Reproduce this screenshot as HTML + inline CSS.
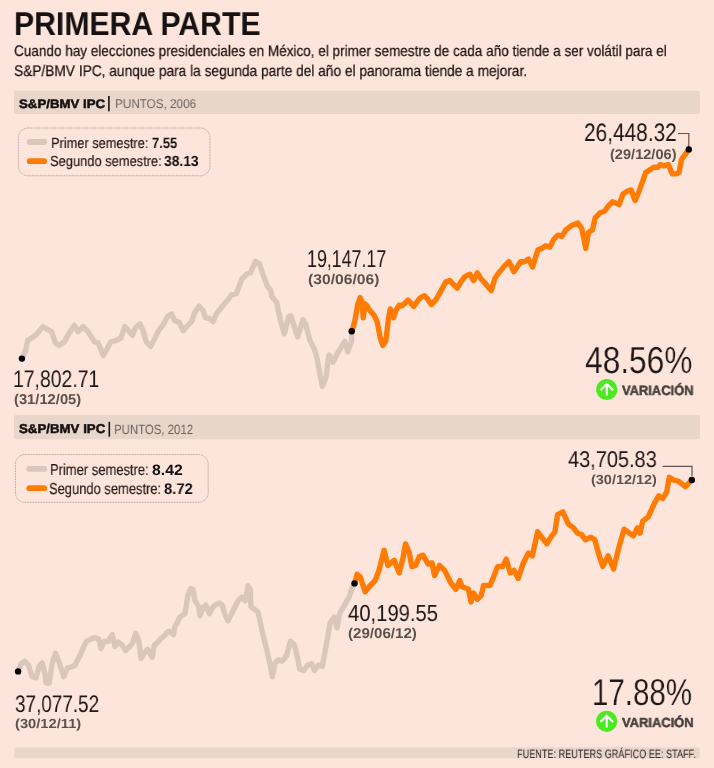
<!DOCTYPE html>
<html><head><meta charset="utf-8"><style>
html,body{margin:0;padding:0}
body{width:714px;height:768px;overflow:hidden;position:relative;background:#fee5db;font-family:"Liberation Sans",sans-serif}
.t{position:absolute;white-space:nowrap;transform-origin:0 0;will-change:transform;text-rendering:geometricPrecision}
</style></head><body>
<svg width="714" height="768" viewBox="0 0 714 768" style="position:absolute;left:0;top:0">
<rect x="14" y="90.7" width="686" height="23.3" rx="2" fill="#e9d6cb"/>
<rect x="14" y="415" width="686" height="24.2" rx="2" fill="#e9d6cb"/>
<rect x="14.3" y="747.3" width="685.5" height="11" rx="2" fill="#e9d6cb"/>
<rect x="108.1" y="96" width="1.6" height="15.3" fill="#141010"/>
<rect x="108.5" y="421.8" width="1.6" height="14.8" fill="#141010"/>
<rect x="18.4" y="128" width="191.5" height="47.8" rx="9.5" fill="none" stroke="#a8968e" stroke-width="0.9" stroke-dasharray="0.9 0.7"/>
<rect x="15.4" y="454.6" width="192.8" height="47.7" rx="9.5" fill="none" stroke="#a8968e" stroke-width="0.9" stroke-dasharray="0.9 0.7"/>
<rect x="26.8" y="139.1" width="20.2" height="5.8" rx="2.4" fill="#dbc6bb"/>
<rect x="26.8" y="158.3" width="20.2" height="5.8" rx="2.9" fill="#ff7b04"/>
<rect x="26.4" y="466" width="20.7" height="5.8" rx="2.4" fill="#dbc6bb"/>
<rect x="26.4" y="485.3" width="20.7" height="5.8" rx="2.9" fill="#ff7b04"/>
<path d="M21.8 358.9 L25.6 350.6 L27.6 340.5 L31.4 338.0 L35.2 335.5 L37.7 333.0 L42.8 326.6 L46.5 329.0 L51.6 331.7 L55.4 343.0 L59.2 345.5 L64.2 341.8 L69.2 333.0 L74.3 325.4 L78.0 331.7 L83.1 326.6 L88.1 331.7 L94.4 341.8 L98.2 343.0 L103.3 355.6 L107.0 349.0 L110.8 341.8 L115.9 340.5 L120.9 338.0 L124.7 326.6 L128.5 330.4 L132.3 335.5 L135.4 327.8 L140.0 323.9 L143.1 330.8 L146.2 341.6 L150.8 346.3 L154.7 338.6 L158.5 330.8 L163.1 324.7 L167.8 316.2 L171.6 313.9 L174.7 320.8 L179.3 322.4 L183.2 330.8 L187.0 326.2 L191.6 321.6 L194.7 312.4 L199.3 306.2 L203.2 310.8 L205.5 317.8 L209.4 318.5 L213.2 321.6 L216.3 313.9 L221.7 307.0 L227.1 300.8 L231.7 294.6 L236.3 293.9 L241.8 279.0 L246.8 274.0 L250.6 272.7 L255.6 261.3 L259.4 263.9 L263.2 275.2 L267.0 285.3 L270.7 290.3 L271.8 296.5 L276.7 302.5 L279.7 317.4 L284.2 333.9 L288.7 316.7 L291.0 315.9 L294.7 327.9 L297.7 336.9 L302.9 319.7 L305.9 324.9 L309.7 339.9 L314.9 350.4 L317.2 359.3 L320.2 375.8 L322.4 386.3 L326.1 377.3 L327.6 363.8 L329.1 354.9 L332.9 362.3 L337.4 353.4 L341.9 345.9 L344.9 341.4 L347.8 351.9 L351.6 341.4 L351.6 331.6" fill="none" stroke="#dbc6bb" stroke-width="5.4" stroke-linejoin="round" stroke-linecap="round"/>
<path d="M351.9 331.6 L355.0 320.3 L357.6 305.2 L360.1 297.6 L362.0 301.4 L363.2 317.8 L365.1 303.9 L367.0 305.8 L369.5 310.2 L374.0 315.3 L377.1 321.6 L380.3 337.9 L382.8 345.5 L385.9 340.5 L388.4 319.0 L390.3 309.0 L393.5 317.8 L396.0 310.2 L399.2 305.2 L401.7 305.8 L404.8 303.3 L408.0 300.1 L410.5 302.6 L413.7 306.4 L416.8 302.0 L420.6 297.6 L424.4 295.7 L427.5 298.9 L431.3 304.5 L435.7 300.1 L440.0 292.6 L445.9 281.8 L449.7 280.5 L453.4 284.3 L457.2 288.1 L461.0 281.8 L464.8 276.7 L469.8 274.2 L473.6 280.5 L477.4 272.9 L481.2 279.2 L484.9 283.0 L491.2 290.6 L495.0 278.0 L498.8 272.9 L503.9 266.6 L508.9 261.6 L513.9 271.7 L520.6 261.7 L524.6 261.7 L528.6 259.1 L532.6 267.0 L537.9 249.7 L541.9 248.4 L545.9 245.8 L549.9 247.1 L553.9 239.1 L557.9 235.1 L561.9 236.4 L565.9 229.8 L571.2 225.8 L577.9 223.1 L581.8 228.5 L585.8 248.4 L588.5 232.4 L592.5 229.8 L595.2 217.8 L600.5 212.5 L604.5 211.2 L608.5 205.8 L612.4 201.8 L619.1 204.5 L623.1 193.9 L627.1 191.2 L631.1 189.9 L635.1 200.5 L639.1 191.2 L645.7 172.6 L649.7 169.9 L653.7 167.3 L657.7 167.3 L660.3 164.6 L664.3 165.9 L668.3 164.6 L672.3 173.9 L676.3 173.9 L679.0 172.6 L681.6 159.3 L685.6 153.9 L688.8 149.4" fill="none" stroke="#ff7b04" stroke-width="5.4" stroke-linejoin="round" stroke-linecap="round"/>
<path d="M18.0 671.6 L20.8 664.1 L24.6 661.0 L28.4 665.3 L32.2 676.7 L36.0 677.9 L39.1 666.6 L42.3 662.8 L44.8 672.9 L46.0 683.0 L49.2 683.0 L52.3 662.8 L55.5 653.4 L59.3 662.8 L63.7 676.7 L67.5 667.9 L71.2 667.2 L75.0 665.3 L80.1 655.3 L83.9 646.4 L86.4 641.4 L91.4 638.9 L95.2 637.6 L99.0 639.5 L101.0 648.6 L104.3 641.3 L108.3 641.3 L112.3 634.6 L115.0 646.6 L118.3 642.0 L121.6 644.6 L125.6 650.6 L129.6 646.6 L132.9 642.6 L135.6 633.3 L138.9 641.3 L140.9 658.6 L144.2 653.3 L147.6 649.3 L152.2 657.3 L154.2 645.3 L157.5 642.6 L160.9 638.6 L164.2 636.0 L167.5 632.0 L169.5 631.3 L173.5 634.6 L174.8 626.7 L176.8 623.3 L180.2 616.7 L185.0 613.7 L187.9 595.1 L190.7 588.6 L192.9 589.3 L195.0 600.8 L198.6 606.5 L200.0 615.8 L202.9 608.0 L205.8 605.1 L209.4 613.7 L212.2 608.0 L215.1 605.1 L219.4 602.9 L222.2 605.1 L225.1 615.1 L228.0 620.8 L232.3 612.2 L238.0 600.8 L241.6 597.2 L245.2 600.8 L248.0 585.7 L250.2 589.3 L250.9 606.5 L254.5 609.4 L258.1 612.2 L260.2 622.3 L263.1 635.2 L266.7 649.5 L270.2 665.3 L272.4 676.7 L275.0 663.0 L278.5 659.8 L282.4 661.1 L286.4 655.8 L290.4 641.2 L294.4 645.2 L297.1 655.8 L299.7 669.1 L303.7 670.4 L307.7 665.1 L311.7 663.8 L314.4 670.4 L318.4 665.1 L322.4 666.4 L325.0 651.8 L327.7 637.2 L330.3 622.5 L334.3 617.2 L337.0 627.9 L339.7 613.2 L343.7 606.6 L349.0 597.3 L351.6 589.3 L354.3 583.4" fill="none" stroke="#dbc6bb" stroke-width="5.4" stroke-linejoin="round" stroke-linecap="round"/>
<path d="M354.6 583.5 L357.1 574.2 L360.1 576.7 L365.2 591.8 L370.2 585.5 L375.2 580.5 L379.0 570.4 L384.1 550.2 L387.9 565.4 L394.2 560.3 L399.2 572.9 L403.0 557.8 L405.5 543.9 L409.3 552.8 L411.8 566.6 L415.6 565.4 L419.4 556.6 L423.1 555.3 L428.2 564.1 L432.0 562.9 L434.5 575.5 L439.5 565.4 L444.6 570.4 L450.9 583.0 L455.9 589.3 L459.7 580.5 L462.2 586.8 L468.5 589.3 L471.0 601.9 L473.6 593.1 L477.3 599.4 L481.1 595.6 L483.6 585.5 L490.0 585.5 L493.7 576.7 L497.5 566.6 L502.6 566.6 L506.3 559.1 L510.1 572.9 L513.9 570.4 L518.2 578.4 L523.0 563.8 L528.3 553.1 L532.3 555.8 L537.6 531.8 L541.6 537.2 L546.9 543.8 L550.9 537.2 L554.9 531.8 L557.6 514.6 L562.9 511.9 L568.2 523.9 L573.5 527.9 L577.5 533.2 L581.5 534.5 L585.5 539.8 L590.8 537.2 L594.8 539.8 L598.8 554.5 L602.8 566.4 L608.1 555.8 L613.5 569.1 L618.8 547.8 L624.1 529.2 L629.4 533.2 L633.4 535.8 L637.4 527.9 L640.1 533.2 L642.7 521.2 L648.1 517.2 L654.7 502.6 L658.7 495.9 L662.7 498.6 L666.7 491.9 L669.3 477.3 L673.3 480.0 L678.6 481.3 L685.3 486.6 L689.3 482.6 L692.0 480.0" fill="none" stroke="#ff7b04" stroke-width="5.4" stroke-linejoin="round" stroke-linecap="round"/>
<path d="M678 133.5 L688.8 133.5 L688.8 147" fill="none" stroke="#62544c" stroke-width="1.2"/>
<path d="M662.7 466.3 L692 466.3 L692 476" fill="none" stroke="#62544c" stroke-width="1.2"/>
<circle cx="21.9" cy="358.6" r="3.2" fill="#000"/>
<circle cx="351.7" cy="331.2" r="3.2" fill="#000"/>
<circle cx="688.8" cy="149.4" r="3.2" fill="#000"/>
<circle cx="18.1" cy="671.4" r="3.2" fill="#000"/>
<circle cx="354.5" cy="583.4" r="3.2" fill="#000"/>
<circle cx="691.8" cy="480" r="3.2" fill="#000"/>
<circle cx="606.8" cy="389.5" r="10.6" fill="#4aeb1e"/><path d="M606.8 395.7 L606.8 384.3 M600.5 390.3 L606.8 383.9 L613.0999999999999 390.3" stroke="#fff" stroke-width="2.1" fill="none" stroke-linecap="butt" stroke-linejoin="miter"/>
<circle cx="606.7" cy="721.3" r="10.6" fill="#4aeb1e"/><path d="M606.7 727.5 L606.7 716.0999999999999 M600.4000000000001 722.0999999999999 L606.7 715.6999999999999 L613.0 722.0999999999999" stroke="#fff" stroke-width="2.1" fill="none" stroke-linecap="butt" stroke-linejoin="miter"/>
</svg>
<div class="t" style="left:13.98px;top:7.51px;font-size:32.95px;line-height:32.95px;font-weight:700;color:#161212;transform:scaleX(0.9167)">PRIMERA PARTE</div>
<div class="t" style="left:14.25px;top:44.05px;font-size:15.25px;line-height:15.25px;font-weight:400;color:#1c1412;transform:scaleX(0.8883);-webkit-text-stroke:0.25px #1c1412">Cuando hay elecciones presidenciales en México, el primer semestre de cada año tiende a ser volátil para el</div>
<div class="t" style="left:14.11px;top:63.71px;font-size:15.39px;line-height:15.39px;font-weight:400;color:#1c1412;transform:scaleX(0.8920);-webkit-text-stroke:0.25px #1c1412">S&amp;P/BMV IPC, aunque para la segunda parte del año el panorama tiende a mejorar.</div>
<div class="t" style="left:19.02px;top:98.29px;font-size:12.25px;line-height:12.25px;font-weight:700;color:#141010;transform:scaleX(1.0809);-webkit-text-stroke:0.5px #141010">S&amp;P/BMV IPC</div>
<div class="t" style="left:114.81px;top:98.41px;font-size:12.71px;line-height:12.71px;font-weight:400;color:#6a625c;transform:scaleX(0.9211)">PUNTOS, 2006</div>
<div class="t" style="left:18.86px;top:423.32px;font-size:12.80px;line-height:12.80px;font-weight:700;color:#141010;transform:scaleX(1.0369);-webkit-text-stroke:0.5px #141010">S&amp;P/BMV IPC</div>
<div class="t" style="left:114.40px;top:422.60px;font-size:13.46px;line-height:13.46px;font-weight:400;color:#6a625c;transform:scaleX(0.8489)">PUNTOS, 2012</div>
<div class="t" style="left:50.68px;top:137.01px;font-size:14.73px;line-height:14.73px;font-weight:400;color:#261c1a;transform:scaleX(0.8688);-webkit-text-stroke:0.2px #261c1a">Primer semestre:</div>
<div class="t" style="left:151.69px;top:136.60px;font-size:14.87px;line-height:14.87px;font-weight:700;color:#141010;transform:scaleX(0.8704)">7.55</div>
<div class="t" style="left:49.96px;top:154.96px;font-size:14.69px;line-height:14.69px;font-weight:400;color:#261c1a;transform:scaleX(0.8773);-webkit-text-stroke:0.2px #261c1a">Segundo semestre:</div>
<div class="t" style="left:163.86px;top:155.39px;font-size:14.69px;line-height:14.69px;font-weight:700;color:#141010;transform:scaleX(0.9432)">38.13</div>
<div class="t" style="left:49.76px;top:463.16px;font-size:15.83px;line-height:15.83px;font-weight:400;color:#261c1a;transform:scaleX(0.8191);-webkit-text-stroke:0.2px #261c1a">Primer semestre:</div>
<div class="t" style="left:152.35px;top:463.09px;font-size:15.06px;line-height:15.06px;font-weight:700;color:#141010;transform:scaleX(1.0480)">8.42</div>
<div class="t" style="left:49.10px;top:482.26px;font-size:15.84px;line-height:15.84px;font-weight:400;color:#261c1a;transform:scaleX(0.8170);-webkit-text-stroke:0.2px #261c1a">Segundo semestre:</div>
<div class="t" style="left:164.39px;top:482.00px;font-size:15.46px;line-height:15.46px;font-weight:700;color:#141010;transform:scaleX(0.9563)">8.72</div>
<div class="t" style="left:12.90px;top:368.00px;font-size:23.93px;line-height:23.93px;font-weight:400;color:#1e1816;transform:scaleX(0.8110)">17,802.71</div>
<div class="t" style="left:13.73px;top:393.07px;font-size:14.21px;line-height:14.21px;font-weight:700;color:#5a524c;transform:scaleX(1.0378)">(31/12/05)</div>
<div class="t" style="left:306.88px;top:247.94px;font-size:24.52px;line-height:24.52px;font-weight:400;color:#1e1816;transform:scaleX(0.7263)">19,147.17</div>
<div class="t" style="left:307.53px;top:272.03px;font-size:14.09px;line-height:14.09px;font-weight:700;color:#5a524c;transform:scaleX(1.1121)">(30/06/06)</div>
<div class="t" style="left:584.13px;top:120.63px;font-size:25.32px;line-height:25.32px;font-weight:400;color:#1e1816;transform:scaleX(0.8237)">26,448.32</div>
<div class="t" style="left:609.57px;top:147.05px;font-size:14.06px;line-height:14.06px;font-weight:700;color:#5a524c;transform:scaleX(1.0383)">(29/12/06)</div>
<div class="t" style="left:584.97px;top:341.57px;font-size:37.68px;line-height:37.68px;font-weight:400;color:#1e1818;transform:scaleX(0.8414);-webkit-text-stroke:0.2px #fee5db">48.56%</div>
<div class="t" style="left:621.52px;top:383.85px;font-size:13.56px;line-height:13.56px;font-weight:700;color:#46403c;transform:scaleX(0.9526);-webkit-text-stroke:0.5px #46403c">VARIACI&Oacute;N</div>
<div class="t" style="left:15.16px;top:692.96px;font-size:23.95px;line-height:23.95px;font-weight:400;color:#1e1816;transform:scaleX(0.7897)">37,077.52</div>
<div class="t" style="left:15.16px;top:717.19px;font-size:13.19px;line-height:13.19px;font-weight:700;color:#5a524c;transform:scaleX(1.1150)">(30/12/11)</div>
<div class="t" style="left:347.89px;top:602.27px;font-size:23.19px;line-height:23.19px;font-weight:400;color:#1e1816;transform:scaleX(0.8725)">40,199.55</div>
<div class="t" style="left:347.90px;top:626.60px;font-size:14.32px;line-height:14.32px;font-weight:700;color:#5a524c;transform:scaleX(1.0560)">(29/06/12)</div>
<div class="t" style="left:568.11px;top:447.50px;font-size:22.82px;line-height:22.82px;font-weight:400;color:#1e1816;transform:scaleX(0.8751)">43,705.83</div>
<div class="t" style="left:590.68px;top:473.19px;font-size:13.19px;line-height:13.19px;font-weight:700;color:#5a524c;transform:scaleX(1.0966)">(30/12/12)</div>
<div class="t" style="left:591.83px;top:674.41px;font-size:37.40px;line-height:37.40px;font-weight:400;color:#1e1818;transform:scaleX(0.7890);-webkit-text-stroke:0.2px #fee5db">17.88%</div>
<div class="t" style="left:622.20px;top:716.14px;font-size:13.17px;line-height:13.17px;font-weight:700;color:#46403c;transform:scaleX(0.9836);-webkit-text-stroke:0.5px #46403c">VARIACI&Oacute;N</div>
<div class="t" style="left:517.04px;top:748.11px;font-size:12.12px;line-height:12.12px;font-weight:400;color:#3a3230;transform:scaleX(0.7531);-webkit-text-stroke:0.1px #3a3230">FUENTE: REUTERS GR&Aacute;FICO EE: STAFF.</div>
</body></html>
